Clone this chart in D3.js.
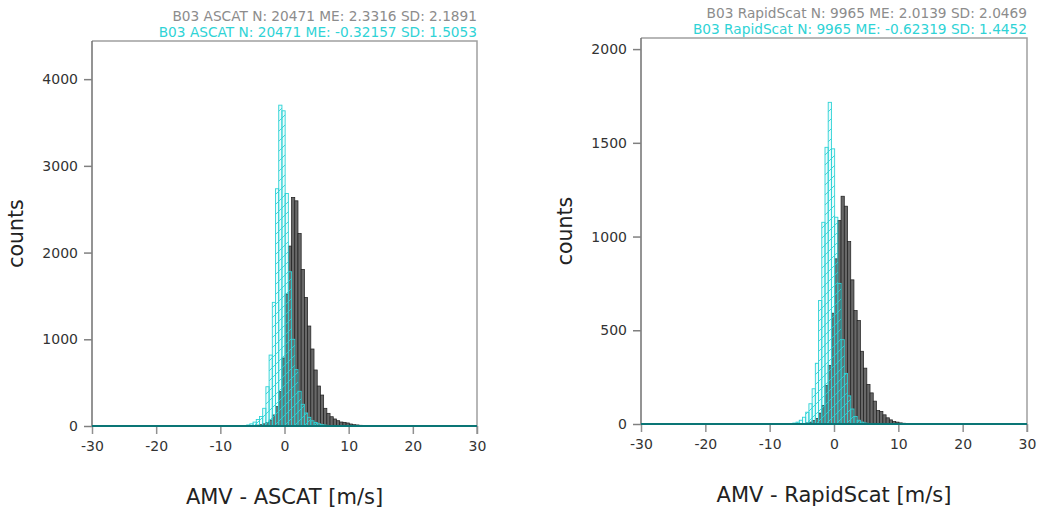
<!DOCTYPE html>
<html>
<head>
<meta charset="utf-8">
<script src="https://cdn.jsdelivr.net/npm/d3@7"></script>
<style>
  body { margin: 0; background: #fff; }
  svg { display: block; font-family: "DejaVu Sans", sans-serif; }
</style>
</head>
<body>
<svg id="chart" width="1041" height="511"></svg>
<script>
// histogram bins: width 0.5 m/s, first listed bin starts at -6.4
const binWidth = 0.5;
const binStart = -6.4;

// ASCAT panel (gray = raw, cyan = corrected)
const ascatRaw = [0, 2, 4, 6, 10, 15, 25, 40, 69, 127, 223, 396, 784, 1522, 2075, 2636, 2597, 2221, 1806, 1483,
  1153, 888, 646, 461, 357, 204, 146, 107, 81, 61, 46, 42, 35, 23, 15, 12, 8, 5, 3];
const ascatCorr = [6, 12, 25, 45, 75, 110, 204, 453, 818, 1426, 2736, 3700, 3635, 2682, 1779, 1000, 650, 400, 250, 150,
  100, 60, 40, 25, 15, 10, 5, 3, 2, 0, 0, 0, 0, 0, 0, 0, 0, 0, 0];

// RapidScat panel
const rapidRaw = [0, 0, 1, 3, 6, 10, 18, 30, 58, 99, 205, 312, 591, 881, 1085, 1215, 1162, 973, 769, 605,
  552, 388, 298, 211, 166, 122, 72, 67, 49, 33, 22, 13, 10, 6, 4, 2, 1, 0, 0];
const rapidCorr = [5, 10, 20, 36, 63, 108, 188, 324, 659, 1076, 1476, 1716, 1468, 1103, 750, 450, 270, 150, 80, 40,
  20, 10, 5, 3, 0, 0, 0, 0, 0, 0, 0, 0, 0, 0, 0, 0, 0, 0, 0];

const xTicks = [-30, -20, -10, 0, 10, 20, 30];
const ascatYTicks = [0, 1000, 2000, 3000, 4000];
const rapidYTicks = [0, 500, 1000, 1500, 2000];

const ascatTitles = ["B03 ASCAT N: 20471 ME: 2.3316 SD: 2.1891", "B03 ASCAT N: 20471 ME: -0.32157 SD: 1.5053"];
const rapidTitles = ["B03 RapidScat N: 9965 ME: 2.0139 SD: 2.0469", "B03 RapidScat N: 9965 ME: -0.62319 SD: 1.4452"];

const grayCol = "#8c8c8c";
const cyanCol = "#2fd3d6";

var svg = d3.select("#chart");

// hatch pattern for the cyan bars
var defs = svg.append("defs");
var pat = defs.append("pattern")
    .attr("id", "hatch")
    .attr("patternUnits", "userSpaceOnUse")
    .attr("width", 10).attr("height", 10);
pat.append("rect").attr("width", 10).attr("height", 10).attr("fill", "rgba(80,225,228,0.12)");
pat.append("path").attr("d", "M-2,2 L2,-2 M0,10 L10,0 M8,12 L12,8")
    .attr("stroke", cyanCol).attr("stroke-width", 0.9);

function toBins(vals) {
    return vals.map((v, i) => ({ x0: binStart + i * binWidth, x1: binStart + (i + 1) * binWidth, n: v }));
}

function drawPanel(p) {
    var x = d3.scaleLinear().domain([-30, 30]).range([p.left, p.right]);
    var yMax = 1.2 * d3.max(p.raw.concat(p.corr));
    var y = d3.scaleLinear().domain([0, yMax]).range([p.bottom, p.top]);

    var g = svg.append("g");

    // frame (top + right)
    g.append("path")
        .attr("d", `M${p.left},${p.top} H${p.right} V${p.bottom + 8}`)
        .attr("fill", "none").attr("stroke", "#a0a0a0").attr("stroke-width", 1.5);

    // y axis
    var ya = g.append("g")
        .attr("transform", `translate(${p.left},0)`)
        .call(d3.axisLeft(y).tickValues(p.yTicks).tickFormat(d => String(d))
            .tickSize(8).tickSizeOuter(0).tickPadding(6));
    ya.select(".domain").attr("d", `M0,${p.top} V${p.bottom}`).attr("stroke", "#707070").attr("stroke-width", 1.5);
    ya.selectAll(".tick line").attr("stroke", "#808080").attr("stroke-width", 1.5);
    ya.selectAll(".tick text").attr("font-size", 14).attr("fill", "#333").attr("font-family", "DejaVu Sans");

    // x axis
    var xa = g.append("g")
        .attr("transform", `translate(0,${p.bottom})`)
        .call(d3.axisBottom(x).tickValues(xTicks).tickFormat(d => String(d))
            .tickSize(8).tickSizeOuter(0).tickPadding(7));
    xa.select(".domain").remove();
    xa.selectAll(".tick line").attr("stroke", "#909090").attr("stroke-width", 1.5);
    xa.selectAll(".tick text").attr("font-size", 14).attr("fill", "#333").attr("font-family", "DejaVu Sans");

    // gray bars
    g.append("g").selectAll("rect")
        .data(toBins(p.raw).filter(d => d.n > 0))
        .enter().append("rect")
        .attr("x", d => x(d.x0))
        .attr("width", d => x(d.x1) - x(d.x0))
        .attr("y", d => y(d.n))
        .attr("height", d => y(0) - y(d.n))
        .attr("fill", "#686868")
        .attr("stroke", "#222")
        .attr("stroke-width", 0.75);

    // cyan hatched bars
    g.append("g").selectAll("rect")
        .data(toBins(p.corr).filter(d => d.n > 0))
        .enter().append("rect")
        .attr("x", d => x(d.x0))
        .attr("width", d => x(d.x1) - x(d.x0))
        .attr("y", d => y(d.n))
        .attr("height", d => y(0) - y(d.n))
        .attr("fill", "url(#hatch)")
        .attr("stroke", cyanCol)
        .attr("stroke-width", 0.9);

    // baseline
    g.append("line")
        .attr("x1", x(-30)).attr("x2", x(30))
        .attr("y1", y(0)).attr("y2", y(0))
        .attr("stroke", "#0a7575").attr("stroke-width", 2.2);

    // titles
    g.append("text")
        .attr("x", p.right).attr("y", p.top - 20)
        .attr("text-anchor", "end").attr("font-size", 13.7).attr("fill", grayCol)
        .text(p.titles[0]);
    g.append("text")
        .attr("x", p.right).attr("y", p.top - 4)
        .attr("text-anchor", "end").attr("font-size", 13.7).attr("fill", cyanCol)
        .text(p.titles[1]);

    // axis labels
    g.append("text")
        .attr("transform", "rotate(-90)")
        .attr("x", -(p.top + p.bottom) / 2)
        .attr("y", p.left - 69)
        .attr("text-anchor", "middle").attr("font-size", 20.5).attr("fill", "#222")
        .text("counts");
    g.append("text")
        .attr("x", (p.left + p.right) / 2)
        .attr("y", p.bottom + 78)
        .attr("text-anchor", "middle").attr("font-size", 21).attr("fill", "#222")
        .text(p.xLabel);
}

drawPanel({ left: 92, right: 477, top: 41, bottom: 426, raw: ascatRaw, corr: ascatCorr,
    yTicks: ascatYTicks, titles: ascatTitles, xLabel: "AMV - ASCAT [m/s]" });
drawPanel({ left: 641, right: 1027, top: 38, bottom: 424, raw: rapidRaw, corr: rapidCorr,
    yTicks: rapidYTicks, titles: rapidTitles, xLabel: "AMV - RapidScat [m/s]" });
</script>
</body>
</html>
